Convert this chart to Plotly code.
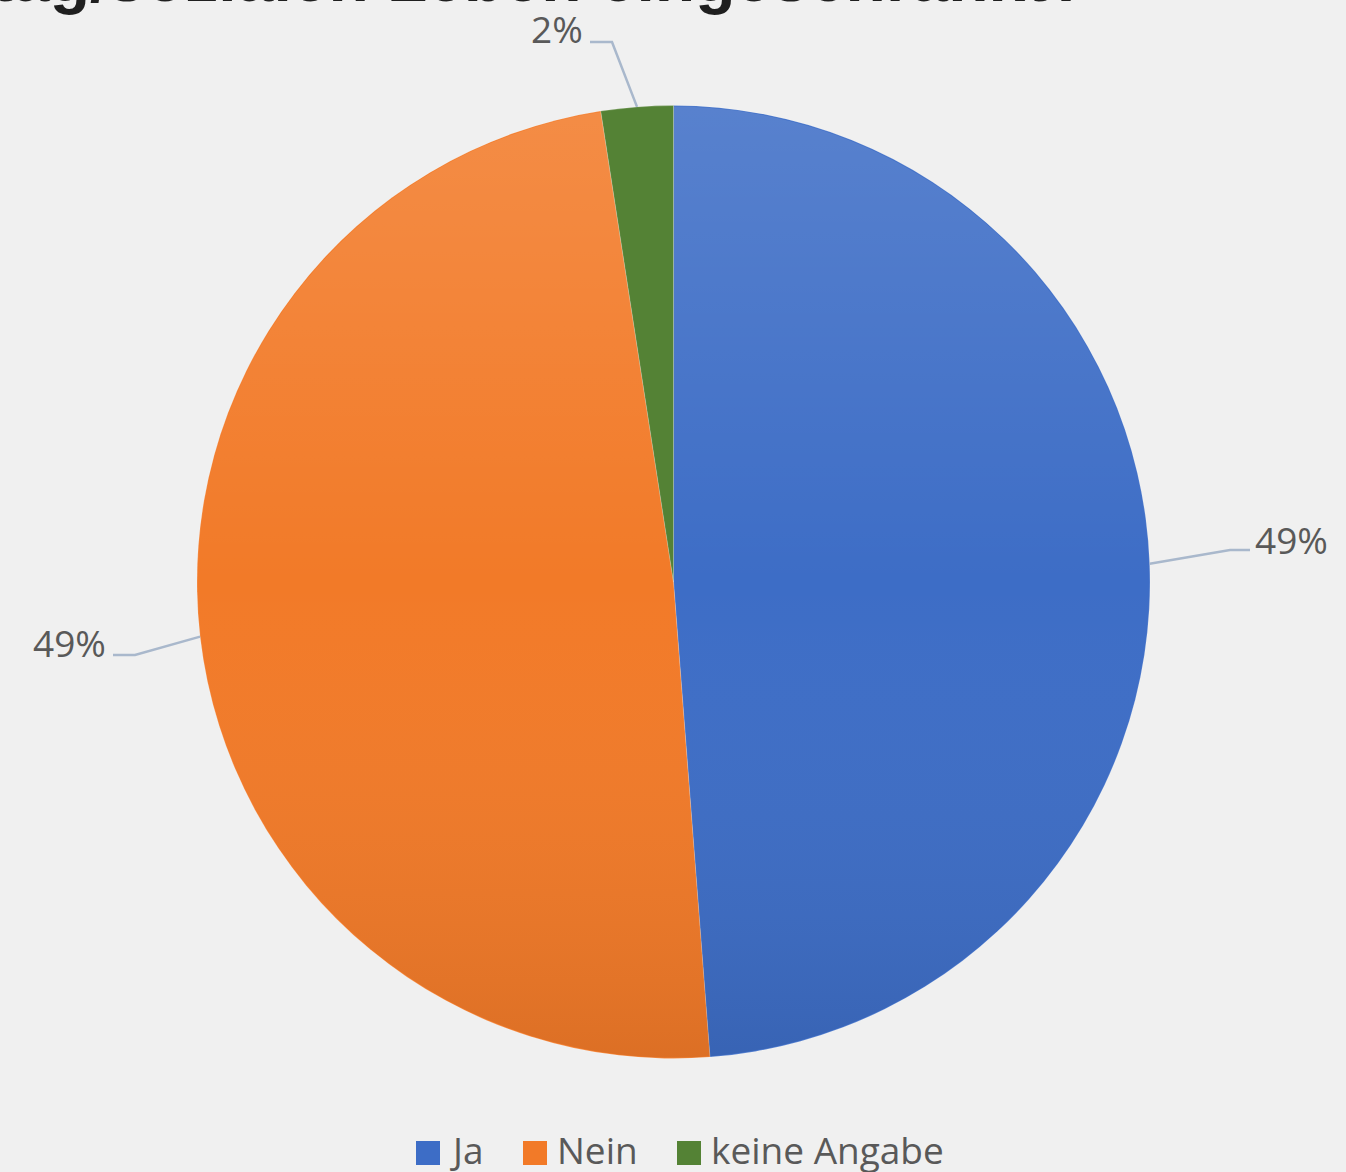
import math
import base64
import plotly.graph_objects as go

# ---- data ----
labels = ["Ja", "Nein", "keine Angabe"]
values = [20, 20, 1]
colors = ["#3D6DC6", "#F27A28", "#548235"]
title_text = "tag/sozialen Leben eingeschränkt?"

W, H = 1346, 1172
BG = "#F0F0F0"
TXT = "#595959"
FONT = "Open Sans"

# pie geometry in pixels
cx, cy, R = 673.5, 582, 476.5

def px(x):
    return x / W

def py(y):
    return 1 - y / H

fig = go.Figure()
fig.add_trace(go.Pie(
    labels=labels, values=values, sort=False, direction="clockwise", rotation=0,
    marker=dict(colors=colors, line=dict(color="rgba(255,255,255,0.35)", width=0.5)),
    textinfo="none", hoverinfo="label+percent", showlegend=False,
    domain=dict(x=[px(cx - R), px(cx + R)], y=[py(cy + R), py(cy - R)]),
))

# subtle vertical shading overlay on the gradient-filled slices (Ja, Nein); the small slice is flat
total = sum(values)
shade_end = (values[0] + values[1]) / total * 2 * math.pi
r = 49.9
ax_ = 50 + r * math.sin(shade_end)
ay_ = 50 - r * math.cos(shade_end)
svg = ('<svg xmlns="http://www.w3.org/2000/svg" width="1000" height="1000" viewBox="0 0 100 100">'
       '<defs><linearGradient id="g" x1="0" y1="0" x2="0" y2="100" gradientUnits="userSpaceOnUse">'
       '<stop offset="0" stop-color="#ffffff" stop-opacity="0.14"/>'
       '<stop offset="0.5" stop-color="#ffffff" stop-opacity="0"/>'
       '<stop offset="1" stop-color="#000000" stop-opacity="0.09"/>'
       '</linearGradient></defs>'
       f'<path d="M50,50 L50,{50 - r} A{r},{r} 0 1 1 {ax_:.3f},{ay_:.3f} Z" fill="url(#g)"/></svg>')
src = "data:image/svg+xml;base64," + base64.b64encode(svg.encode()).decode()
images = [dict(source=src, xref="paper", yref="paper", x=px(cx - R), y=py(cy - R),
               sizex=2 * R / W, sizey=2 * R / H, sizing="stretch",
               xanchor="left", yanchor="top", layer="above")]

# data labels with leader lines (edge point computed from slice mid-angles)
elbows = [((1230, 550), (1250, 550), "left"),
          ((135, 655), (113, 655), "right"),
          ((612, 42), (590, 42), "right")]
cum = 0
shapes = []
annotations = []
for v, (elb, end, side) in zip(values, elbows):
    mid = (cum + v / 2) / total * 2 * math.pi
    cum += v
    ex = cx + R * math.sin(mid)
    ey = cy - R * math.cos(mid)
    path = f"M {px(ex)},{py(ey)} L {px(elb[0])},{py(elb[1])} L {px(end[0])},{py(end[1])}"
    shapes.append(dict(type="path", xref="paper", yref="paper", path=path,
                       line=dict(color="#A9B8CC", width=2.5)))
    pct = round(v / total * 100)
    if side == "left":
        annotations.append(dict(x=px(end[0] + 3), y=py(end[1] - 11), xref="paper", yref="paper",
                                text=f"{pct}%", showarrow=False, xanchor="left", yanchor="middle",
                                font=dict(family=FONT, size=37, color=TXT)))
    else:
        annotations.append(dict(x=px(end[0] - 5), y=py(end[1] - 13), xref="paper", yref="paper",
                                text=f"{pct}%", showarrow=False, xanchor="right", yanchor="middle",
                                font=dict(family=FONT, size=37, color=TXT)))

# legend (manual)
leg_x = [416, 523, 677]
leg_y = 1153
for lab, col, lx in zip(labels, colors, leg_x):
    shapes.append(dict(type="rect", xref="paper", yref="paper",
                       x0=px(lx), x1=px(lx + 24), y0=py(leg_y + 12), y1=py(leg_y - 12),
                       fillcolor=col, line=dict(width=0)))
    annotations.append(dict(x=px(lx + 32), y=py(leg_y - 4), xref="paper", yref="paper", text=lab,
                            showarrow=False, xanchor="left", yanchor="middle",
                            font=dict(family=FONT, size=37, color=TXT)))

# title (cropped at top in the reference)
annotations.append(dict(x=px(1090), y=py(17), xref="paper", yref="paper", text=f"<b>{title_text}</b>",
                        showarrow=False, xanchor="right", yanchor="bottom",
                        font=dict(family="Liberation Sans", size=66, color="#1F1F1F")))

fig.update_layout(
    width=W, height=H, margin=dict(l=0, r=0, t=0, b=0),
    paper_bgcolor=BG, plot_bgcolor=BG,
    shapes=shapes, annotations=annotations, images=images,
)
fig.write_html("out.html", config={"displayModeBar": False},
               post_script="document.body.style.margin='0';document.body.style.background='#F0F0F0';")
